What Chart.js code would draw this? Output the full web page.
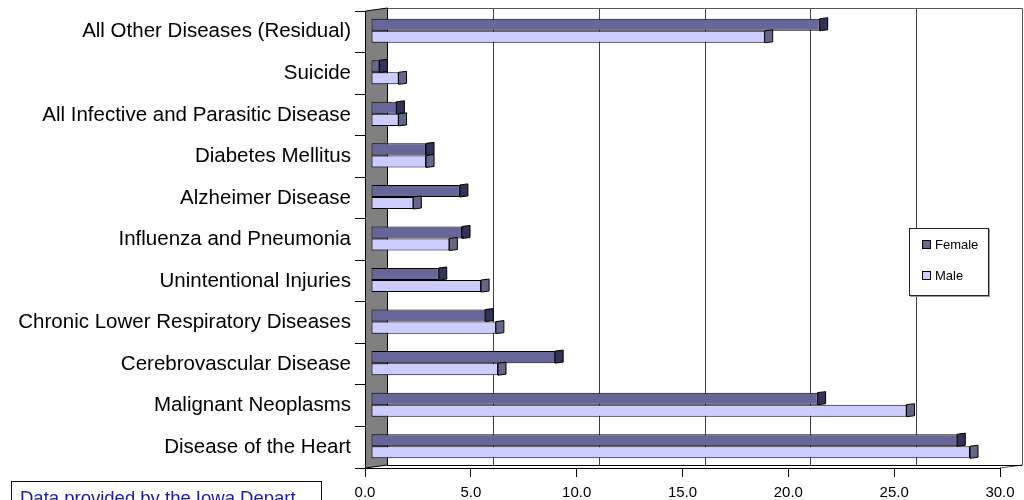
<!DOCTYPE html>
<html>
<head>
<meta charset="utf-8">
<script src="https://cdn.jsdelivr.net/npm/chart.js@4.4.1/dist/chart.umd.min.js"></script>
<style>
  html, body { margin: 0; padding: 0; background: #fff; overflow: hidden; }
  #wrap { position: relative; width: 1024px; height: 500px; }
  #legend {
    position: absolute; left: 909px; top: 228px; width: 78px; height: 66px;
    border: 1px solid #222; background: #fff; box-shadow: 1px 1px 0 #999;
    font: 13px "Liberation Sans", Arial, sans-serif; color: #000;
  }
  #legend .item { position: absolute; left: 12px; height: 15px; line-height: 15px; white-space: nowrap; }
  #legend .box { display: inline-block; width: 7px; height: 7px; border: 1px solid #000; margin-right: 4px; vertical-align: 0px; }
  #note {
    position: absolute; left: 11px; top: 481px; width: 285px; height: 40px;
    border: 1px solid #000080; padding: 5px 16px 0 8px; overflow: hidden; word-break: break-all;
    font: 18.5px "Liberation Sans", Arial, sans-serif; color: #1a1aa8;
  }
</style>
</head>
<body>
<div id="wrap">
  <canvas id="myChart" width="1024" height="500"></canvas>
  <div id="legend"></div>
  <div id="note">Data provided by the Iowa Department of Public Health</div>
</div>
<script>
// categories top to bottom, as they appear on the chart
const categories = [
  'All Other Diseases (Residual)',
  'Suicide',
  'All Infective and Parasitic Disease',
  'Diabetes Mellitus',
  'Alzheimer Disease',
  'Influenza and Pneumonia',
  'Unintentional Injuries',
  'Chronic Lower Respiratory Diseases',
  'Cerebrovascular Disease',
  'Malignant Neoplasms',
  'Disease of the Heart'
];
const femaleValues = [21.2, 0.4, 1.2, 2.6, 4.2, 4.3, 3.2, 5.4, 8.7, 21.1, 27.7];
const maleValues   = [18.6, 1.3, 1.3, 2.6, 2.0, 3.7, 5.2, 5.9, 6.0, 25.3, 28.3];
const xTicks = [0, 5, 10, 15, 20, 25, 30];
const seriesNames = ['Female', 'Male'];

const faceColors = ['#666699', '#ccccff'];
const capColors = ['#333358', '#666688'];

// fake 3d depth (Excel style)
const dx = 22, dy = -3, barShift = 6, capW = 8;

const walls = {
  id: 'walls',
  beforeDraw(chart) {
    const ctx = chart.ctx, a = chart.chartArea, x = chart.scales.x;
    ctx.save();
    ctx.lineWidth = 1;
    // back wall gridlines
    ctx.strokeStyle = '#404040';
    xTicks.forEach(v => {
      if (v <= xTicks[0] || v >= xTicks[xTicks.length - 1]) return;
      const px = Math.round(x.getPixelForValue(v) + dx) + 0.5;
      ctx.beginPath();
      ctx.moveTo(px, a.top + dy);
      ctx.lineTo(px, a.bottom + dy);
      ctx.stroke();
    });
    // back wall outline + floor edge
    ctx.strokeStyle = '#555';
    ctx.beginPath();
    ctx.moveTo(a.left + dx, a.top + dy + 0.5);
    ctx.lineTo(a.right + dx + 0.5, a.top + dy + 0.5);
    ctx.lineTo(a.right + dx + 0.5, a.bottom + dy);
    ctx.lineTo(a.right, a.bottom);
    ctx.stroke();
    ctx.strokeStyle = '#000';
    ctx.beginPath();
    ctx.moveTo(a.left + dx, a.bottom + dy + 0.5);
    ctx.lineTo(a.right + dx, a.bottom + dy + 0.5);
    ctx.stroke();
    // side wall
    ctx.fillStyle = '#808080';
    ctx.beginPath();
    ctx.moveTo(a.left + 0.5, a.top);
    ctx.lineTo(a.left + dx + 0.5, a.top + dy);
    ctx.lineTo(a.left + dx + 0.5, a.bottom + dy);
    ctx.lineTo(a.left + 0.5, a.bottom);
    ctx.closePath();
    ctx.fill();
    ctx.strokeStyle = '#000';
    ctx.stroke();
    ctx.restore();
  },
  beforeDatasetsDraw(chart) {
    chart.ctx.save();
    chart.ctx.translate(barShift, -1);
  },
  afterDatasetsDraw(chart) {
    const ctx = chart.ctx;
    chart.data.datasets.forEach((ds, i) => {
      chart.getDatasetMeta(i).data.forEach(bar => {
        const p = bar.getProps(['x', 'y', 'height'], true);
        const t = p.y - p.height / 2, b = p.y + p.height / 2;
        ctx.beginPath();
        ctx.moveTo(p.x, t);
        ctx.lineTo(p.x + capW, t - 1);
        ctx.lineTo(p.x + capW, b - 1);
        ctx.lineTo(p.x, b);
        ctx.closePath();
        ctx.fillStyle = capColors[i];
        ctx.fill();
        ctx.strokeStyle = '#000';
        ctx.lineWidth = 1;
        ctx.stroke();
      });
    });
    ctx.restore();
  }
};

const ctx = document.getElementById('myChart');
new Chart(ctx, {
  type: 'bar',
  data: {
    labels: categories,
    datasets: [femaleValues, maleValues].map((vals, i) => ({
      label: seriesNames[i],
      data: vals,
      backgroundColor: faceColors[i],
      borderColor: '#000',
      borderWidth: 1,
      borderSkipped: false,
      categoryPercentage: 0.58,
      barPercentage: 1.0
    }))
  },
  options: {
    indexAxis: 'y',
    responsive: false,
    animation: false,
    devicePixelRatio: 1,
    layout: { padding: { top: 11, right: 24, left: 0, bottom: 0 } },
    plugins: { legend: { display: false }, tooltip: { enabled: false } },
    scales: {
      x: {
        min: xTicks[0],
        max: xTicks[xTicks.length - 1],
        afterBuildTicks: s => { s.ticks = xTicks.map(v => ({ value: v })); },
        afterFit: s => { s.height = 32; },
        grid: { drawOnChartArea: false, tickLength: 9, color: '#000' },
        border: { color: '#000' },
        ticks: {
          padding: 7,
          color: '#000',
          font: { family: '"Liberation Sans", Arial, sans-serif', size: 15 },
          callback: v => Number(v).toFixed(1)
        }
      },
      y: {
        afterFit: s => { s.width = 365; s.paddingTop = 0; s.paddingBottom = 0; },
        grid: { offset: true, drawOnChartArea: false, tickLength: 10, color: '#000' },
        border: { color: '#000' },
        ticks: {
          padding: 4,
          color: '#000',
          font: { family: '"Liberation Sans", Arial, sans-serif', size: 20.5 }
        }
      }
    }
  },
  plugins: [walls]
});

// legend box
const legend = document.getElementById('legend');
seriesNames.forEach((name, i) => {
  const item = document.createElement('div');
  item.className = 'item';
  item.style.top = (8 + i * 31) + 'px';
  item.innerHTML = '<span class="box" style="background:' + faceColors[i] + '"></span>' + name;
  legend.appendChild(item);
});
</script>
</body>
</html>
